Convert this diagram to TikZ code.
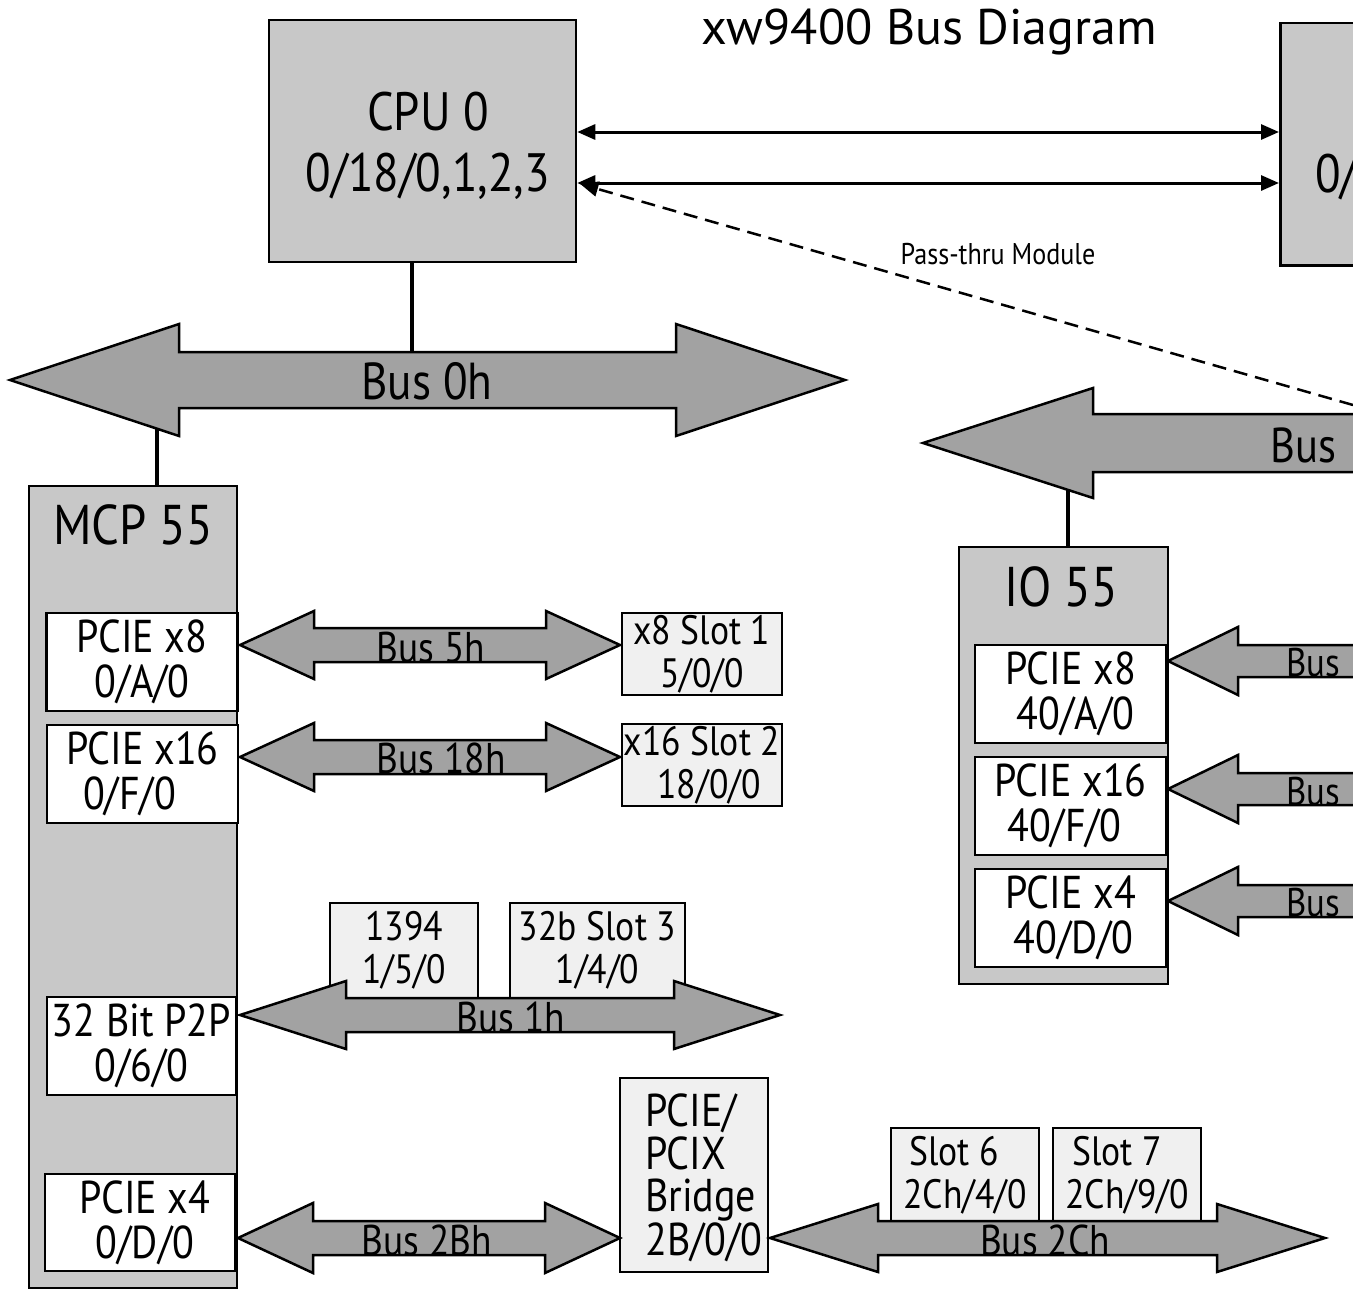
\documentclass[tikz,border=0pt]{standalone}
\usepackage{fontspec}
\setmainfont[FakeStretch=0.87]{PT Sans}
\newfontfamily\titlefont{PT Sans}
\usetikzlibrary{arrows.meta}
\definecolor{chipgray}{HTML}{C8C8C8}
\definecolor{busgray}{HTML}{A2A2A2}
\definecolor{slotgray}{HTML}{F0F0F0}
\newcommand\FSz[2]{\fontsize{#1}{#2}\selectfont}
% double-headed fat bus arrow: left tip x, right tip x, centre y, head length, shaft half, head half
\newcommand\DblBus[6]{%
  \filldraw[busfill] (#1,#3) -- ({#1+#4},{#3-#6}) -- ({#1+#4},{#3-#5}) -- ({#2-#4},{#3-#5}) -- ({#2-#4},{#3-#6}) -- (#2,#3) -- ({#2-#4},{#3+#6}) -- ({#2-#4},{#3+#5}) -- ({#1+#4},{#3+#5}) -- ({#1+#4},{#3+#6}) -- cycle;}
% left-pointing fat bus arrow running off to the right: tip x, far x, centre y, head length, shaft half, head half
\newcommand\LeftBus[6]{%
  \filldraw[busfill] (#1,#3) -- ({#1+#4},{#3-#6}) -- ({#1+#4},{#3-#5}) -- (#2,{#3-#5}) -- (#2,{#3+#5}) -- ({#1+#4},{#3+#5}) -- ({#1+#4},{#3+#6}) -- cycle;}
\begin{document}
\begin{tikzpicture}[x=1pt,y=-1pt,
  box/.style={draw, line width=2.5pt, inner sep=0pt, align=center},
  chip/.style={box, fill=chipgray},
  port/.style={box, fill=white, minimum width=191pt, minimum height=98pt, font=\FSz{46}{45}},
  slotbox/.style={box, fill=slotgray, font=\FSz{41}{43}},
  busfill/.style={draw, line width=2.5pt, fill=busgray, line join=miter},
  conn/.style={line width=4pt},
  link/.style={line width=3pt, {Triangle[length=18pt,width=15pt]}-{Triangle[length=18pt,width=15pt]}},
  passthru/.style={line width=2.5pt, dash pattern=on 14pt off 8pt, -{Triangle[length=18pt,width=15pt]}},
  buslabel/.style={inner sep=0pt, anchor=base, font=\FSz{43}{45}},
  bigtext/.style={inner sep=0pt, font=\FSz{56}{61}, align=center}
]
\useasboundingbox (0,0) rectangle (1353,1290);
\clip (0,0) rectangle (1353,1290);

% title
\node[inner sep=0pt, anchor=base, font=\titlefont\FSz{50}{55}] (title) at (929,45) {xw9400 Bus Diagram};

% CPUs
\node[chip, minimum width=307pt, minimum height=242pt] (cpu0) at (422.5,141) {};
\node[inner sep=0pt, align=center, font=\FSz{54}{61}] (cpu0t) at (428,146) {CPU 0\\0/18/0,1,2,3};
\node[chip, minimum width=330pt, minimum height=242pt, anchor=north west] (cpu1) at (1279,22) {};
\node[inner sep=0pt, anchor=base west, font=\FSz{54}{61}] (cpu1t) at (1315,192) {0/};

% chipsets
\node[chip, minimum width=208pt, minimum height=802pt] (mcp) at (133,887) {};
\node[bigtext] (mcpt) at (133,525) {MCP 55};
\node[chip, minimum width=209pt, minimum height=437pt] (io) at (1063.5,765.5) {};
\node[bigtext] (iot) at (1061,587) {IO 55};

% MCP 55 ports
\node[port] (m8) at (142,662) {PCIE x8\\0/A/0};
\node[port] (m16) at (142.5,774) {PCIE x16\\0/F/0\hspace*{26pt}};
\node[port, minimum width=189pt] (mp2p) at (141.5,1046) {32 Bit P2P\\0/6/0};
\node[port, minimum width=190pt, minimum height=97pt] (m4) at (140,1222.5) {\hspace*{10pt}PCIE x4\\\hspace*{10pt}0/D/0};

% IO 55 ports
\node[port] (i8) at (1070.5,694) {PCIE x8\\\hspace*{10pt}40/A/0};
\node[port] (i16) at (1070.5,806) {PCIE x16\\40/F/0\hspace*{12pt}};
\node[port] (i4) at (1070.5,918) {PCIE x4\\\hspace*{6pt}40/D/0};

% slots
\node[slotbox, minimum width=160pt, minimum height=82pt] (s1) at (702,654) {x8 Slot 1\\5/0/0};
\node[slotbox, minimum width=160pt, minimum height=82pt] (s2) at (702,765) {x16 Slot 2\\\hspace*{14pt}18/0/0};
\node[slotbox, minimum width=148pt, minimum height=95pt] (s1394) at (404,950.5) {1394\\1/5/0};
\node[slotbox, minimum width=175pt, minimum height=95pt] (s3) at (597.5,950.5) {32b Slot 3\\1/4/0};
\node[slotbox, minimum width=148pt, minimum height=194pt] (bridge) at (694,1175) {};
\node[inner sep=0pt, anchor=west, align=left, font=\FSz{46}{42.5}] (bridget) at (645,1178) {PCIE/\\PCIX\\Bridge\\2B/0/0};
\node[slotbox, minimum width=148pt, minimum height=94pt, align=left] (s6) at (965,1175) {\hspace*{6pt}Slot 6\\2Ch/4/0};
\node[slotbox, minimum width=148pt, minimum height=94pt, align=left] (s7) at (1127,1175) {\hspace*{7pt}Slot 7\\2Ch/9/0};

% connectors
\coordinate (ya) at (0,132);
\coordinate (yb) at (0,183);
\draw[link] (cpu0.east |- ya) -- (cpu1.west |- ya);
\draw[link] (cpu0.east |- yb) -- (cpu1.west |- yb);
\coordinate (ptend) at (1353,405);
\draw[passthru] (ptend) -- ([xshift=3pt,yshift=-1pt]cpu0.east |- yb);
\node[inner sep=0pt, font=\FSz{30}{32}] (ptlabel) at (998,254) {Pass-thru Module};

\coordinate (j0) at (412,380);
\coordinate (j1) at (157,380);
\coordinate (j2) at (1068,443);
\draw[conn] (j0 |- cpu0.south) -- (j0);
\draw[conn] (j1 |- mcp.north) -- (j1);
\draw[conn] (j2 |- io.north) -- (j2);

% fat bus arrows
\DblBus{10}{845}{380}{169}{28}{56}
\DblBus{240}{620}{645}{74}{17}{34}
\DblBus{240}{620}{757}{74}{17}{34}
\DblBus{240}{780}{1015}{106}{17}{34}
\DblBus{238}{620}{1238}{75}{17}{35}
\DblBus{770}{1325}{1238}{108}{17}{34}
\LeftBus{923}{1420}{443}{170}{29}{55}
\LeftBus{1168}{1420}{661}{70}{16}{34}
\LeftBus{1168}{1420}{789}{70}{16}{34}
\LeftBus{1168}{1420}{901}{70}{16}{34}

% bus labels
\node[inner sep=0pt, font=\FSz{52}{55}] (b0) at (427,381) {Bus 0h};
\node[buslabel] (b5) at (431,662) {Bus 5h};
\node[buslabel] (b18) at (441,773) {Bus 18h};
\node[buslabel] (b1) at (511,1032) {Bus 1h};
\node[buslabel] (b2b) at (427,1255) {Bus 2Bh};
\node[buslabel] (b2c) at (1045,1255) {Bus 2Ch};
\node[inner sep=0pt, anchor=base west, font=\FSz{49}{52}] (b40) at (1270,462) {Bus};
\node[buslabel, anchor=base west, font=\FSz{40}{42}] (bi1) at (1286,676) {Bus};
\node[buslabel, anchor=base west, font=\FSz{40}{42}] (bi2) at (1286,805) {Bus};
\node[buslabel, anchor=base west, font=\FSz{40}{42}] (bi3) at (1286,916) {Bus};
\end{tikzpicture}
\end{document}
